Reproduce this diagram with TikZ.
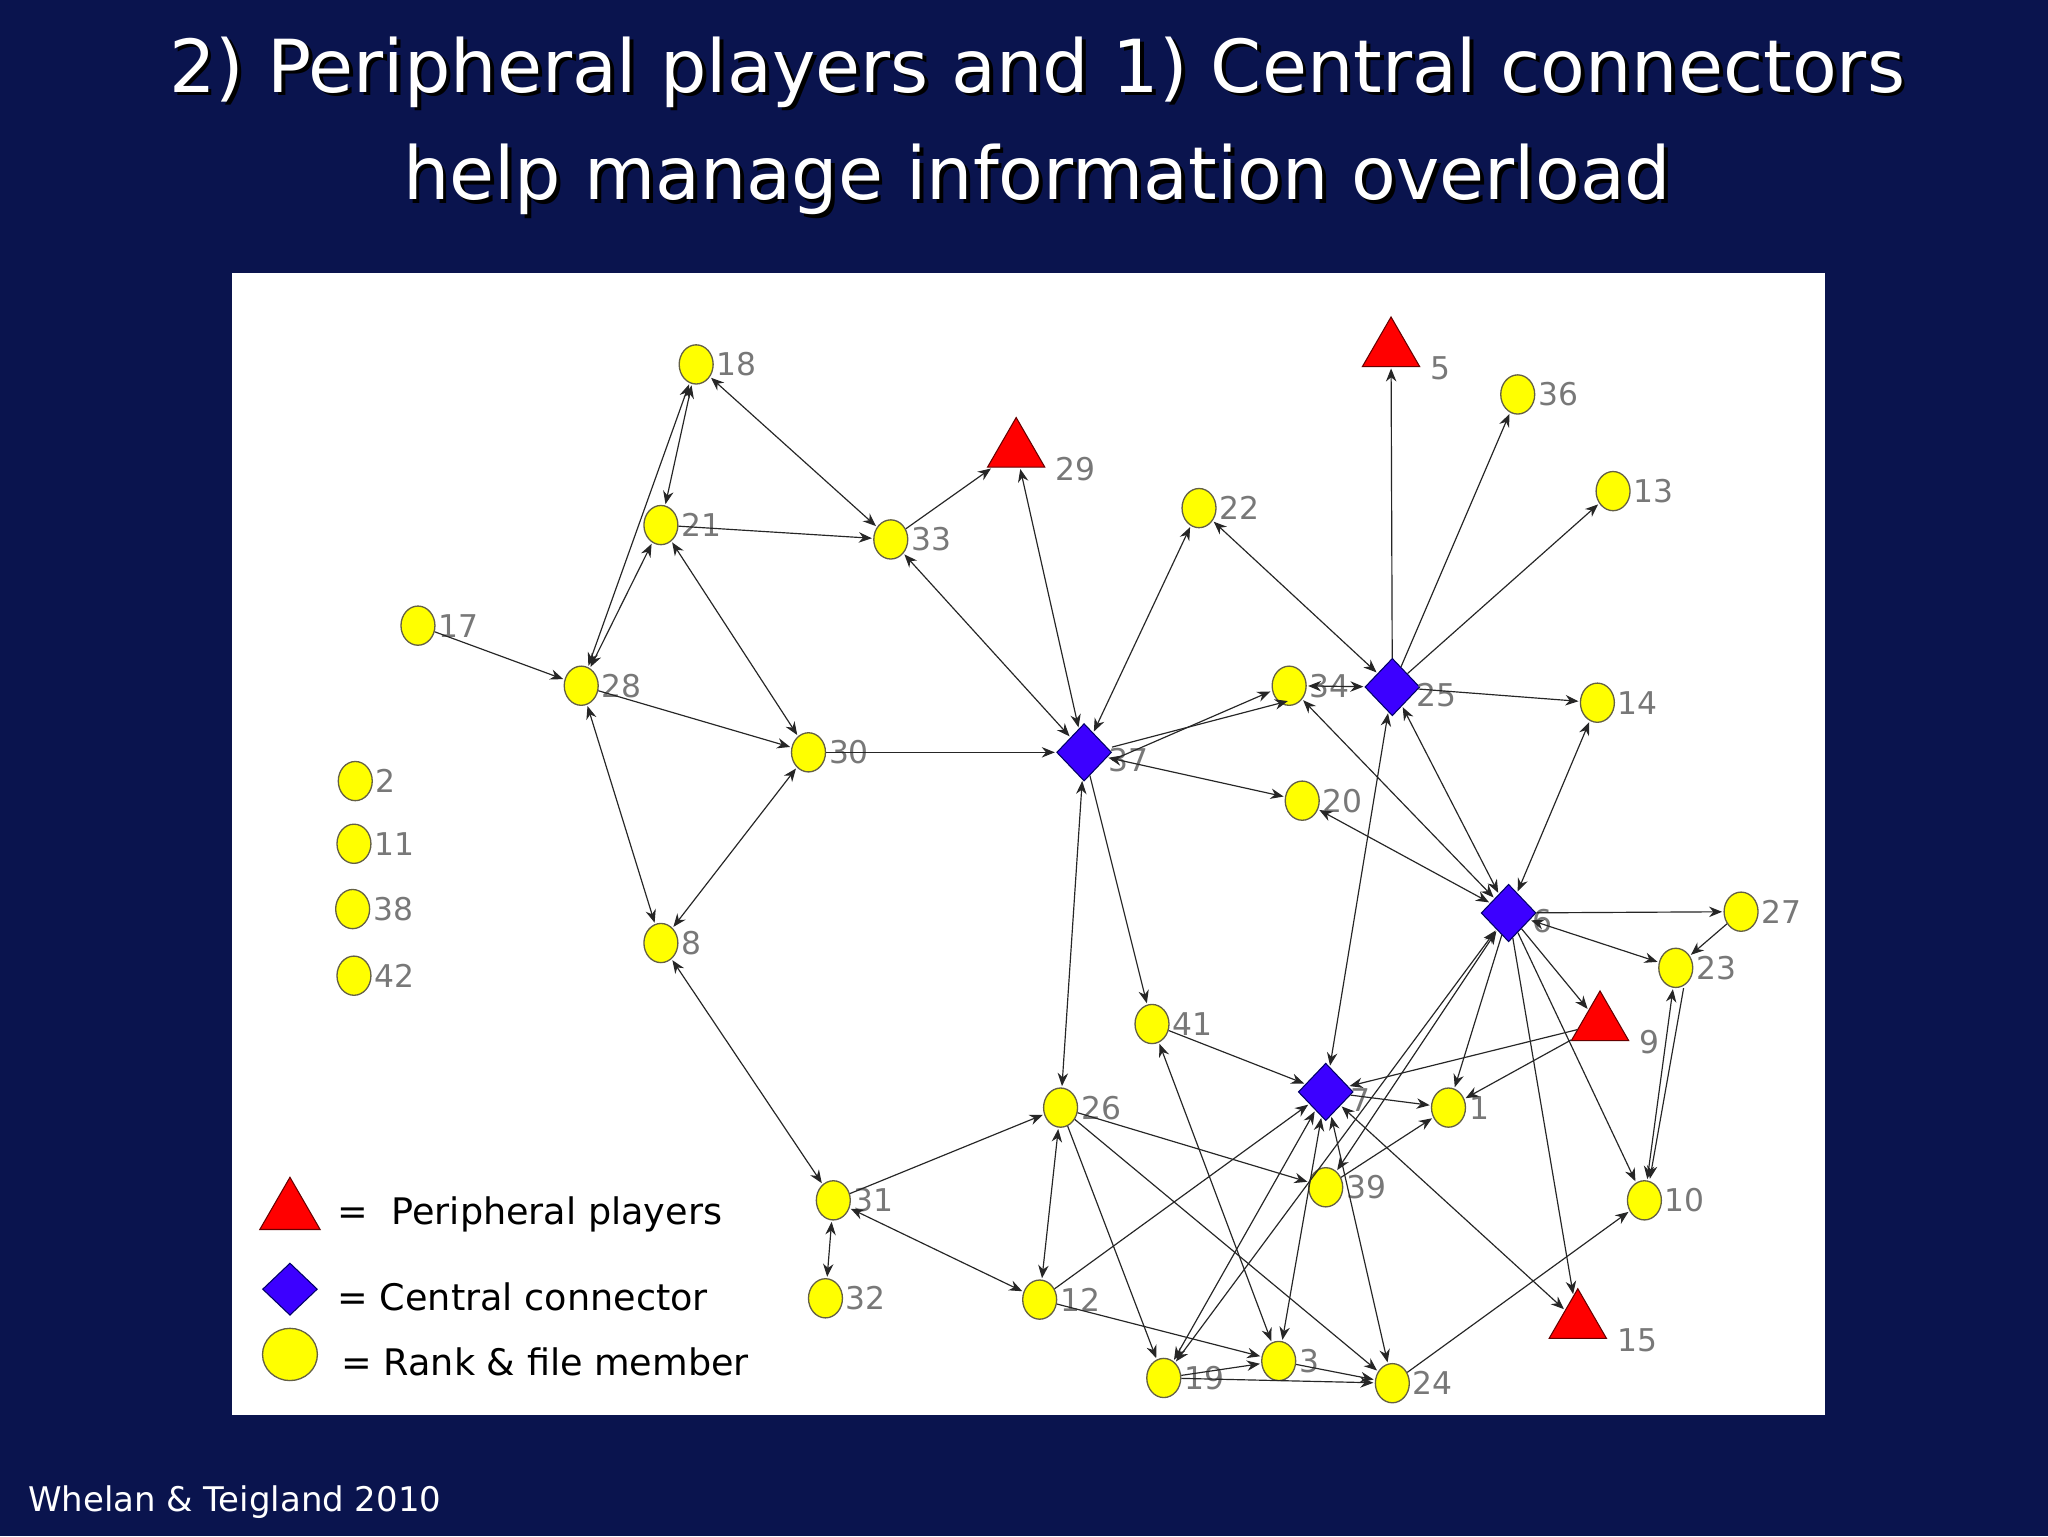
\documentclass[tikz,border=0pt]{standalone}
\usepackage{fontspec}
\setmainfont{DejaVu Sans}
\usetikzlibrary{shapes.geometric,arrows.meta}
\definecolor{navy}{RGB}{10,20,78}
\definecolor{lblgray}{RGB}{120,120,120}
\definecolor{nodeyel}{RGB}{255,255,0}
\definecolor{dblue}{RGB}{60,0,255}
\tikzset{
 mem/.style={ellipse,draw=black!70!yellow,fill=nodeyel,minimum width=26pt,minimum height=30pt,inner sep=0pt,line width=1pt},
 cen/.style={diamond,draw=black!60!blue,fill=dblue,minimum width=42pt,minimum height=44pt,inner sep=0pt,line width=0.8pt},
 per/.style={isosceles triangle,shape border rotate=90,isosceles triangle apex angle=60,draw=black!60!red,fill=red,minimum width=42pt,minimum height=38pt,inner sep=0pt,line width=0.8pt},
 lbl/.style={text=lblgray,font=\fontsize{24}{24}\selectfont,inner sep=1pt,anchor=west},
 ed/.style={draw=black!85,line width=0.9pt,-{Stealth[length=10pt,width=8pt]},shorten >=1pt},
 bd/.style={ed,{Stealth[length=10pt,width=8pt]}-{Stealth[length=10pt,width=8pt]},shorten <=1pt},
}
\begin{document}
\begin{tikzpicture}[x=1pt,y=-1pt]
\fill[navy] (0,0) rectangle (1568,1176);
\useasboundingbox (0,0) rectangle (1568,1176);
\fill[white] (178,209) rectangle (1397,1083);
% title
\foreach \dx/\c in {3/black,0/white}{
 \node[text=\c,font=\fontsize{56}{56}\selectfont] at (794+\dx,55+\dx) {2) Peripheral players and 1) Central connectors};
 \node[text=\c,font=\fontsize{56}{56}\selectfont] at (794+\dx,137+\dx) {help manage information overload};
}
\node[text=white,font=\fontsize{26}{26}\selectfont,anchor=west] (foot) at (18,1150) {Whelan \& Teigland 2010};
% nodes
\foreach \n/\x/\y in {18/533/279,21/506/402,33/682/413,17/320/479,28/445/525,30/619/576,8/506/722,2/272/598,11/271/646,38/270/696,42/271/747,22/918/389,36/1162/302,13/1235/376,34/987/525,14/1223/538,20/997/613,27/1333/698,23/1283/741,41/882/784,1/1109/848,26/812/848,39/1015/909,10/1259/919,31/638/919,32/632/994,12/796/995,19/891/1055,3/979/1042,24/1066/1059}{
 \node[mem] (n\n) at (\x,\y) {};
 \node[lbl] at ([xshift=1pt]n\n.east) {\n};
}
\foreach \n/\x/\y in {37/830/576,25/1066/526,6/1155/699,7/1015/836}{
 \node[cen] (n\n) at (\x,\y) {};
 \node[lbl] at ([xshift=-4pt,yshift=-6pt]n\n.east) {\n};
}
\foreach \n/\x/\y in {29/778/345,5/1065/268,9/1225/784,15/1208/1012}{
 \node[per] (n\n) at (\x,\y) {};
 \node[lbl] at ([xshift=14pt,yshift=-14pt]n\n.east) {\n};
}
% edges
\foreach \a/\b in {18/21,18/28,21/28,18/33,33/37,29/37,21/30,28/8,8/30,37/22,37/20,37/26,22/25,34/25,25/6,14/6,34/6,20/6,6/23,6/39,6/19,7/25,7/3,7/24,7/15,7/19,26/12,31/12,31/32,8/31,41/3,23/10}{
 \draw[bd] (n\a) -- (n\b);
}
\foreach \a/\b in {21/33,33/29,17/28,28/30,30/37,37/41,25/5,25/36,25/13,25/14,6/27,6/9,6/1,6/10,6/15,41/7,7/1,9/7,9/1,12/7,39/1,26/39,26/19,26/24,31/26,12/3,19/3,19/24,3/24,24/10,27/23}{
 \draw[ed] (n\a) -- (n\b);
}
\draw[ed] ([yshift=-6pt]n37.east) -- ([yshift=-4pt]n34.west);
\draw[ed] ([yshift=4pt]n37.east) -- ([yshift=4pt]n34.south);
\draw[ed] ([xshift=6pt]n23.south) -- ([xshift=4pt]n10.north);
% legend
\node[per,minimum width=44pt,minimum height=40pt] (lp) at (222,928) {};
\node[cen,minimum width=42pt,minimum height=40pt] (lc) at (222,987) {};
\node[mem,minimum width=42pt,minimum height=40pt] (lm) at (222,1037) {};
\node[anchor=west,font=\fontsize{28}{28}\selectfont] (tp) at (255,930) {=\ \ Peripheral players};
\node[anchor=west,font=\fontsize{28}{28}\selectfont] (tc) at (255,993) {= Central connector};
\node[anchor=west,font=\fontsize{28}{28}\selectfont] (tm) at (258,1043) {= Rank \& file member};
\end{tikzpicture}
\end{document}
